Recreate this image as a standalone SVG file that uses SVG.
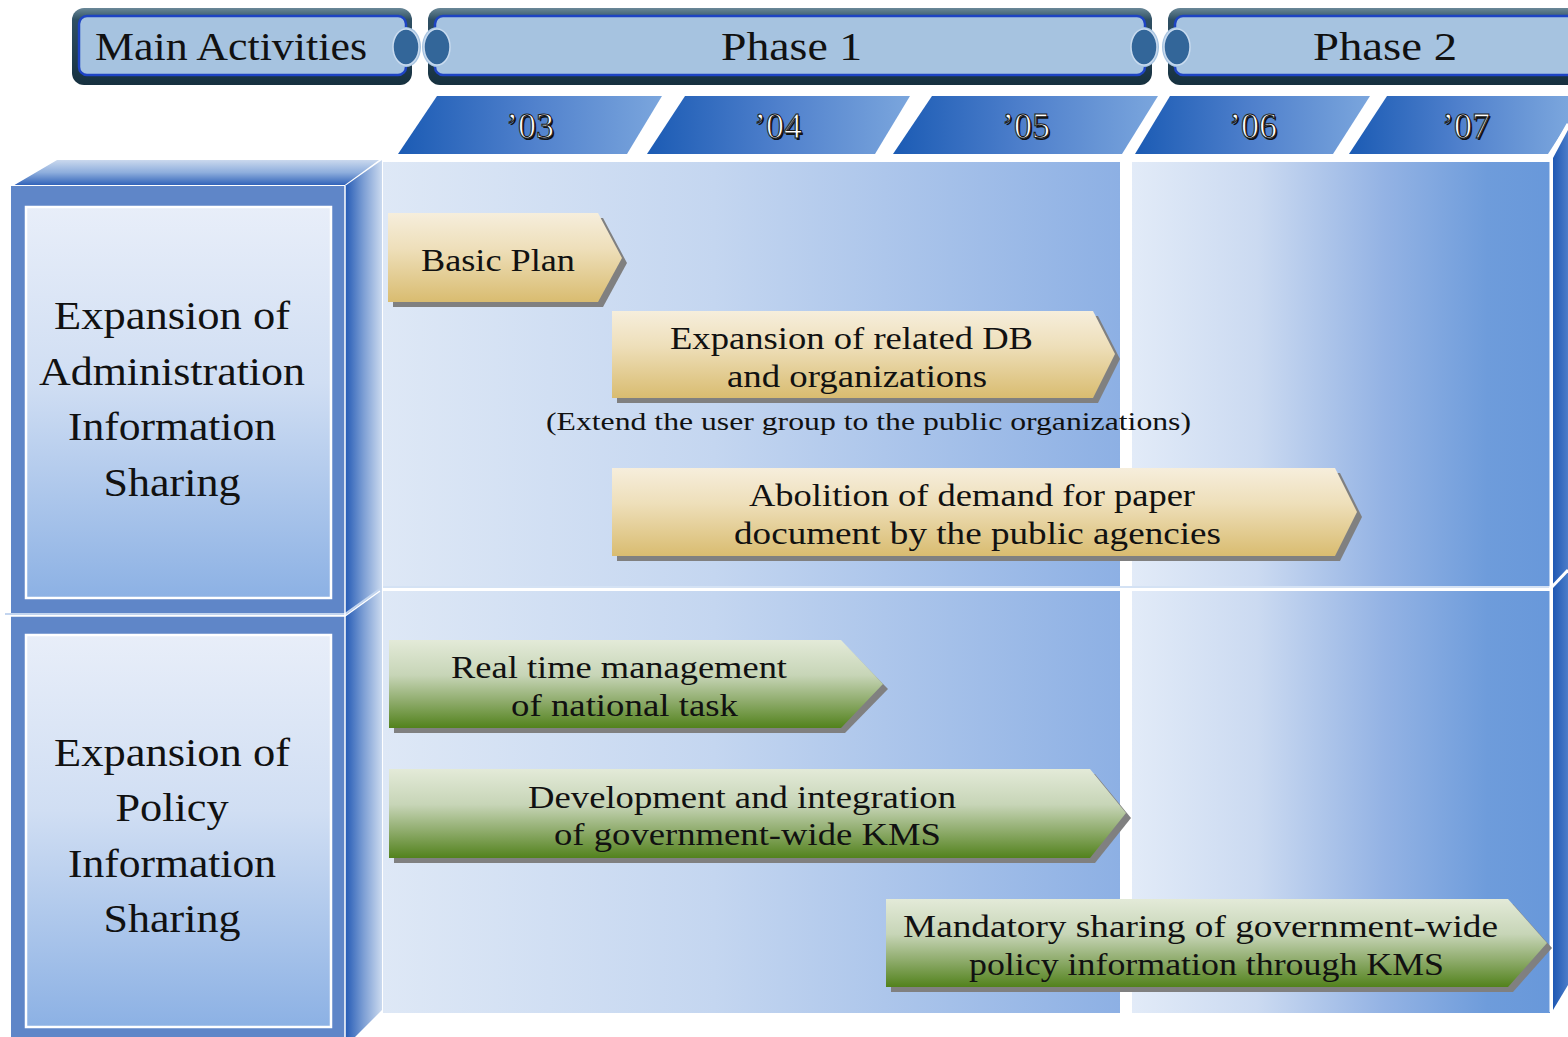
<svg xmlns="http://www.w3.org/2000/svg" width="1568" height="1037" viewBox="0 0 1568 1037">
<defs>
<linearGradient id="hdrOuter" x1="0" y1="0" x2="0" y2="1">
<stop offset="0" stop-color="#6a8898"/><stop offset="0.15" stop-color="#2f5064"/><stop offset="1" stop-color="#16303f"/>
</linearGradient>
<linearGradient id="tab" x1="0" y1="0" x2="1" y2="0">
<stop offset="0" stop-color="#1b5bb4"/><stop offset="0.5" stop-color="#4f80cc"/><stop offset="1" stop-color="#7ba6dd"/>
</linearGradient>
<linearGradient id="topFace" x1="0" y1="0" x2="0" y2="1">
<stop offset="0" stop-color="#cfdcef"/><stop offset="0.5" stop-color="#8eaedd"/><stop offset="1" stop-color="#2a5db6"/>
</linearGradient>
<linearGradient id="sideFace" x1="0" y1="0" x2="1" y2="0">
<stop offset="0" stop-color="#245ab5"/><stop offset="0.5" stop-color="#7c9ed4"/><stop offset="1" stop-color="#cbdaef"/>
</linearGradient>
<linearGradient id="rightSide" x1="0" y1="0" x2="1" y2="0">
<stop offset="0" stop-color="#1f58b3"/><stop offset="1" stop-color="#4a7cc9"/>
</linearGradient>
<linearGradient id="inner" x1="0" y1="0" x2="0" y2="1">
<stop offset="0" stop-color="#e8eef9"/><stop offset="0.45" stop-color="#d0def3"/><stop offset="1" stop-color="#8cb1e4"/>
</linearGradient>
<linearGradient id="p1" x1="0" y1="0" x2="1" y2="0">
<stop offset="0" stop-color="#dee8f6"/><stop offset="0.45" stop-color="#c4d6f0"/><stop offset="1" stop-color="#8db0e4"/>
</linearGradient>
<linearGradient id="p2" x1="0" y1="0" x2="1" y2="0">
<stop offset="0" stop-color="#e2ebf8"/><stop offset="0.3" stop-color="#cbdaf1"/><stop offset="0.6" stop-color="#94b3e4"/><stop offset="0.85" stop-color="#6e9cdb"/><stop offset="1" stop-color="#6898da"/>
</linearGradient>
<linearGradient id="tan" x1="0" y1="0" x2="0" y2="1">
<stop offset="0" stop-color="#f6eedc"/><stop offset="0.4" stop-color="#eedfba"/><stop offset="1" stop-color="#d9bc70"/>
</linearGradient>
<linearGradient id="green" x1="0" y1="0" x2="0" y2="1">
<stop offset="0" stop-color="#e3ead8"/><stop offset="0.4" stop-color="#c7d5b7"/><stop offset="0.7" stop-color="#8eab6b"/><stop offset="1" stop-color="#52821c"/>
</linearGradient>
<g id="knot">
<ellipse cx="0" cy="0" rx="15" ry="20" fill="#a6c3e0"/>
<ellipse cx="0" cy="0" rx="13" ry="18" fill="#336699" stroke="#c9dbef" stroke-width="1.5"/>
</g>
</defs>
<style>
.serif{font-family:"Liberation Serif","DejaVu Serif",serif;fill:#111;}
.hdr{font-size:40px;}
.yr{font-family:"Liberation Serif","DejaVu Serif",serif;font-size:36px;fill:#fff;stroke:#1a1a1a;stroke-width:1;text-anchor:middle;}
.yrs{font-family:"Liberation Serif","DejaVu Serif",serif;font-size:36px;fill:#111;text-anchor:middle;}
.side{font-size:40px;text-anchor:middle;}
.arr{font-size:31px;text-anchor:middle;}
.shadow{fill:#808080;}
.hdrIn{fill:#a6c3e0;stroke:#1e44c4;stroke-width:2.5;}
</style>
<rect width="1568" height="1037" fill="#ffffff"/>

<!-- Header -->
<g id="hdr-main">
<rect x="72" y="8" width="340" height="77" rx="12" fill="url(#hdrOuter)"/>
<rect x="79" y="16" width="327" height="59" rx="8" class="hdrIn"/>
<text x="95" y="60" class="serif hdr" textLength="272" lengthAdjust="spacingAndGlyphs">Main Activities</text>
</g>
<g id="hdr-phase1">
<rect x="428" y="8" width="724" height="77" rx="12" fill="url(#hdrOuter)"/>
<rect x="435" y="16" width="710" height="59" rx="8" class="hdrIn"/>
<text x="721" y="60" class="serif hdr" textLength="141" lengthAdjust="spacingAndGlyphs">Phase 1</text>
</g>
<g id="hdr-phase2">
<rect x="1168" y="8" width="420" height="77" rx="12" fill="url(#hdrOuter)"/>
<rect x="1175" y="16" width="410" height="59" rx="8" class="hdrIn"/>
<text x="1313" y="60" class="serif hdr" textLength="144" lengthAdjust="spacingAndGlyphs">Phase 2</text>
</g>
<use href="#knot" x="406" y="47"/>
<use href="#knot" x="437" y="47"/>
<use href="#knot" x="1144" y="47"/>
<use href="#knot" x="1177" y="47"/>

<!-- Year tabs -->
<g id="tab-03"><polygon points="437,96 662,96 627,154 398,154" fill="url(#tab)"/><text x="531.5" y="139.5" class="yrs">’03</text><text x="530" y="138" class="yr">’03</text></g>
<g id="tab-04"><polygon points="685,96 910,96 875,154 647,154" fill="url(#tab)"/><text x="779.5" y="139.5" class="yrs">’04</text><text x="778" y="138" class="yr">’04</text></g>
<g id="tab-05"><polygon points="932,96 1158,96 1122,154 893,154" fill="url(#tab)"/><text x="1027.5" y="139.5" class="yrs">’05</text><text x="1026" y="138" class="yr">’05</text></g>
<g id="tab-06"><polygon points="1170,96 1370,96 1333,154 1135,154" fill="url(#tab)"/><text x="1254.5" y="139.5" class="yrs">’06</text><text x="1253" y="138" class="yr">’06</text></g>
<g id="tab-07"><polygon points="1387,96 1568,96 1568,123 1548,154 1349,154" fill="url(#tab)"/><text x="1467.5" y="139.5" class="yrs">’07</text><text x="1466" y="138" class="yr">’07</text></g>

<!-- Timeline panels -->
<g id="panels">
<rect x="383" y="162" width="737" height="424" fill="url(#p1)"/>
<rect x="1132" y="162" width="418" height="424" fill="url(#p2)"/>
<rect x="383" y="591" width="737" height="422" fill="url(#p1)"/>
<rect x="1132" y="591" width="418" height="422" fill="url(#p2)"/>
<line x1="383" y1="587" x2="1550" y2="587" stroke="#c6d8f0" stroke-width="1.5"/>
<polygon points="1553,158 1568,130 1568,985 1553,1010" fill="url(#rightSide)"/>
<polyline points="1550,156 1568,124" fill="none" stroke="#ffffff" stroke-width="3"/>
<polyline points="1550,589 1568,570" fill="none" stroke="#ffffff" stroke-width="3"/>
<line x1="1551" y1="156" x2="1551" y2="1012" stroke="#ffffff" stroke-width="3"/>
</g>

<!-- Left cube -->
<g id="row-admin">
<polygon points="11,186 57,159 382,159 345,186" fill="url(#topFace)" stroke="#ffffff" stroke-width="2"/>
<polygon points="345,186 382,160 382,1010 355,1037 345,1037" fill="url(#sideFace)"/>
<rect x="11" y="186" width="334" height="428" fill="#5f86c8"/>
<rect x="26" y="207" width="305" height="391" fill="url(#inner)" stroke="#ffffff" stroke-width="2.5"/>
<text class="serif side" x="172" y="329" textLength="236" lengthAdjust="spacingAndGlyphs">Expansion of</text>
<text class="serif side" x="172" y="385" textLength="266" lengthAdjust="spacingAndGlyphs">Administration</text>
<text class="serif side" x="172" y="440" textLength="208" lengthAdjust="spacingAndGlyphs">Information</text>
<text class="serif side" x="172" y="496" textLength="137" lengthAdjust="spacingAndGlyphs">Sharing</text>
</g>
<g id="row-policy">
<rect x="11" y="616" width="334" height="421" fill="#5f86c8"/>
<rect x="26" y="635" width="305" height="392" fill="url(#inner)" stroke="#ffffff" stroke-width="2.5"/>
<text class="serif side" x="172" y="766" textLength="236" lengthAdjust="spacingAndGlyphs">Expansion of</text>
<text class="serif side" x="172" y="821" textLength="113" lengthAdjust="spacingAndGlyphs">Policy</text>
<text class="serif side" x="172" y="877" textLength="208" lengthAdjust="spacingAndGlyphs">Information</text>
<text class="serif side" x="172" y="932" textLength="137" lengthAdjust="spacingAndGlyphs">Sharing</text>
</g>
<polyline points="5,614 345,614 380,589" fill="none" stroke="#c3d5ef" stroke-width="2"/>
<polyline points="5,616 345,616 380,591" fill="none" stroke="#ffffff" stroke-width="1.5"/>
<line x1="345" y1="186" x2="345" y2="1037" stroke="#ffffff" stroke-width="1.5"/>

<!-- Activity arrows -->
<g id="act-basic-plan">
<polygon class="shadow" points="393,218 603,218 627,263 603,307 393,307"/>
<polygon fill="url(#tan)" points="388,213 598,213 622,258 598,302 388,302"/>
<text class="serif arr" x="498" y="271" textLength="154" lengthAdjust="spacingAndGlyphs">Basic Plan</text>
</g>
<g id="act-expansion-db">
<polygon class="shadow" points="617,316 1098,316 1120,359 1098,403 617,403"/>
<polygon fill="url(#tan)" points="612,311 1093,311 1115,354 1093,398 612,398"/>
<text class="serif arr" x="851.5" y="349" textLength="363" lengthAdjust="spacingAndGlyphs">Expansion of related DB</text>
<text class="serif arr" x="857" y="387" textLength="260" lengthAdjust="spacingAndGlyphs">and organizations</text>
</g>
<text id="note-extend" class="serif" x="868.5" y="430" font-size="25" text-anchor="middle" textLength="645" lengthAdjust="spacingAndGlyphs">(Extend the user group to the public organizations)</text>
<g id="act-abolition">
<polygon class="shadow" points="617,473 1340,473 1362,517 1340,561 617,561"/>
<polygon fill="url(#tan)" points="612,468 1335,468 1357,512 1335,556 612,556"/>
<text class="serif arr" x="972" y="506" textLength="446" lengthAdjust="spacingAndGlyphs">Abolition of demand for paper</text>
<text class="serif arr" x="977.5" y="544" textLength="487" lengthAdjust="spacingAndGlyphs">document by the public agencies</text>
</g>
<g id="act-realtime">
<polygon class="shadow" points="394,645 845,645 888,689 845,733 394,733"/>
<polygon fill="url(#green)" points="389,640 841,640 883,684 841,728 389,728"/>
<text class="serif arr" x="619" y="678" textLength="336" lengthAdjust="spacingAndGlyphs">Real time management</text>
<text class="serif arr" x="624.5" y="716" textLength="227" lengthAdjust="spacingAndGlyphs">of national task</text>
</g>
<g id="act-kms-dev">
<polygon class="shadow" points="394,774 1095,774 1131,818 1095,863 394,863"/>
<polygon fill="url(#green)" points="389,769 1090,769 1126,813 1090,858 389,858"/>
<text class="serif arr" x="742" y="808" textLength="428" lengthAdjust="spacingAndGlyphs">Development and integration</text>
<text class="serif arr" x="747.5" y="845" textLength="387" lengthAdjust="spacingAndGlyphs">of government-wide KMS</text>
</g>
<g id="act-mandatory">
<polygon class="shadow" points="891,904 1513,904 1552,948 1513,992 891,992"/>
<polygon fill="url(#green)" points="886,899 1508,899 1547,943 1508,987 886,987"/>
<text class="serif arr" x="1200.5" y="937" textLength="595" lengthAdjust="spacingAndGlyphs">Mandatory sharing of government-wide</text>
<text class="serif arr" x="1206.5" y="975" textLength="475" lengthAdjust="spacingAndGlyphs">policy information through KMS</text>
</g>
</svg>
